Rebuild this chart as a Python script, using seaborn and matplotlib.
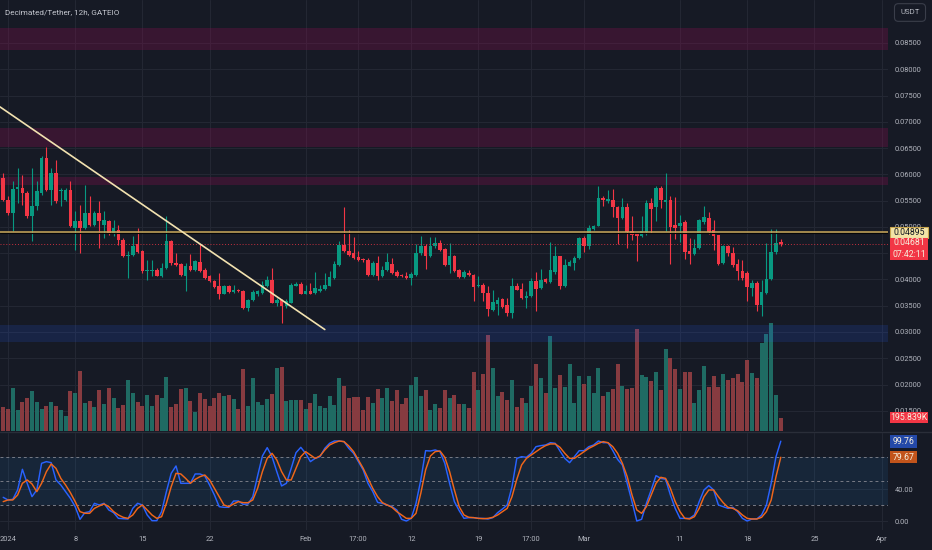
import numpy as np
import pandas as pd
import matplotlib
matplotlib.use("Agg")
import matplotlib.pyplot as plt
from matplotlib.lines import Line2D
from matplotlib.patches import Rectangle
import seaborn as sns

# DEC/USDT 12h candles, first candle 2023-12-31 12:00
first_candle = "2023-12-31 12:00"

opens = [
    .05929, .05517, .05264, .05720, .05739, .05644, .05201, .05391, .05644, .06309,
    .05707, .06024, .05676, .05517, .05707, .04979, .05106, .04979, .05264, .05043,
    .05264, .05043, .05106, .04885, .04948, .04758, .04441, .04473, .04676, .04536,
    .04157, .04157, .04188, .04074, .04220, .04726, .04315, .04302, .04074, .04264,
    .04176, .04327, .04176, .04062, .03967, .03872, .03732, .03872, .03758, .03808,
    .03777, .03460, .03606, .03714, .03745, .03872, .03986, .03555, .03606, .03492,
    .03555, .03884, .03922, .03732, .03777, .03745, .03777, .03821, .03884, .04030,
    .04283, .04663, .04549, .04505, .04429, .04391, .04378, .04093, .04315, .04062,
    .04188, .04302, .04138, .04081, .04074, .04030, .04093, .04505, .04631, .04454,
    .04631, .04695, .04581, .04283, .04441, .04176, .04049, .04125, .04093, .03872,
    .03903, .03745, .03416, .03524, .03619, .03505, .03353, .03884, .03821, .03650,
    .03682, .03967, .03834, .04011, .03948, .04138, .04441, .03872, .04264, .04315,
    .04410, .04790, .04631, .04966, .05024, .05549, .05486, .05517, .05378, .05169,
    .05378, .04916, .04885, .04821, .04897, .05454, .05378, .05739, .05467, .05505,
    .05030, .05011, .05093, .04536, .04492, .04600, .05093, .05169, .04935, .04840,
    .04315, .04644, .04505, .04302, .04169, .04125, .03840, .03935, .03505, .03745,
    .04011, .04517, .04707,
]
highs = [
    .06024, .05581, .05866, .06119, .05992, .05676, .06119, .05866, .06340, .06524,
    .06119, .06277, .05739, .05739, .05866, .05296, .05423, .05802, .05581, .05296,
    .05486, .05296, .05138, .05138, .05043, .04790, .04536, .04834, .04979, .04568,
    .04378, .04378, .04220, .04315, .05201, .04745, .04505, .04315, .04315, .04492,
    .04378, .04676, .04220, .04093, .03998, .04125, .03903, .03903, .03903, .03821,
    .03796, .03631, .03808, .03808, .03967, .04062, .04220, .03650, .03631, .03619,
    .03935, .03948, .03948, .03903, .03935, .04138, .03903, .04125, .04157, .04346,
    .04726, .05378, .04948, .04809, .04536, .04410, .04410, .04346, .04454, .04252,
    .04505, .04410, .04176, .04112, .04138, .04138, .04682, .04821, .04682, .04809,
    .04809, .04758, .04600, .04695, .04473, .04201, .04176, .04188, .04112, .04074,
    .03935, .03884, .03796, .03669, .03650, .03650, .04030, .03935, .03935, .03777,
    .04030, .04138, .04201, .04030, .04707, .04631, .04454, .04391, .04378, .04454,
    .04809, .04834, .05043, .05043, .05783, .05593, .05695, .05720, .05391, .05549,
    .05454, .05201, .04885, .05214, .05505, .05549, .05771, .05771, .06024, .05593,
    .05568, .05233, .05125, .04790, .04771, .05150, .05404, .05277, .05138, .04853,
    .04663, .04663, .04619, .04391, .04378, .04157, .03986, .03967, .03986, .04695,
    .04960, .04960, .04771,
]
lows = [
    .05486, .05233, .04916, .05454, .05423, .05169, .04726, .05328, .05612, .05676,
    .05423, .05454, .05391, .05486, .04998, .04568, .04505, .04960, .05024, .05011,
    .04600, .04790, .04853, .04821, .04663, .04429, .04030, .04454, .04505, .04125,
    .03998, .04062, .04062, .04049, .04201, .04283, .04252, .04074, .03777, .04157,
    .04157, .04138, .04011, .03948, .03840, .03619, .03714, .03745, .03745, .03758,
    .03441, .03397, .03587, .03694, .03732, .03859, .03543, .03492, .03175, .03460,
    .03543, .03872, .03714, .03714, .03714, .03732, .03758, .03808, .03872, .04011,
    .04264, .04517, .04441, .04391, .04346, .04340, .04074, .04074, .03998, .04049,
    .04157, .04112, .04049, .04043, .04011, .03903, .04074, .04473, .04201, .04429,
    .04600, .04536, .04264, .04125, .04138, .04030, .04030, .04074, .03587, .03859,
    .03587, .03302, .03397, .03315, .03460, .03302, .03258, .03796, .03631, .03460,
    .03669, .03397, .03821, .03935, .03935, .04112, .03821, .03859, .04252, .04176,
    .04391, .04517, .04581, .04948, .05011, .05404, .05454, .05188, .04682, .05150,
    .04600, .04745, .04346, .04809, .04853, .04885, .05106, .05359, .04916, .04302,
    .04771, .04707, .04391, .04302, .04473, .04581, .05062, .04872, .04568, .04283,
    .04302, .04441, .04239, .03998, .03998, .03587, .03682, .03397, .03302, .03732,
    .03998, .04492, .04644,
]
closes = [
    .05517, .05264, .05720, .05752, .05644, .05201, .05391, .05676, .06309, .05707,
    .06024, .05486, .05707, .05707, .05011, .05106, .04979, .05264, .05043, .05264,
    .05106, .05138, .04885, .04979, .04758, .04441, .04473, .04631, .04517, .04157,
    .04176, .04176, .04074, .04220, .04726, .04315, .04283, .04093, .04264, .04176,
    .04346, .04157, .04030, .03967, .03859, .03732, .03872, .03758, .03808, .03777,
    .03460, .03606, .03758, .03777, .03903, .03986, .03555, .03606, .03492, .03587,
    .03903, .03922, .03732, .03777, .03732, .03840, .03821, .03903, .04049, .04302,
    .04663, .04536, .04473, .04410, .04365, .04365, .04093, .04315, .04062, .04188,
    .04327, .04125, .04062, .04062, .04030, .04112, .04505, .04631, .04454, .04631,
    .04695, .04568, .04283, .04441, .04157, .04049, .04138, .04093, .03859, .03903,
    .03745, .03429, .03568, .03606, .03479, .03353, .03884, .03808, .03650, .03694,
    .03967, .03821, .03998, .03948, .04176, .04454, .03872, .04283, .04327, .04410,
    .04790, .04631, .04979, .05024, .05549, .05505, .05530, .05378, .05169, .05378,
    .04897, .04853, .04821, .04916, .05454, .05346, .05739, .05505, .05505, .04998,
    .04986, .05074, .04517, .04492, .04600, .05125, .05188, .04897, .04821, .04302,
    .04644, .04505, .04283, .04169, .04036, .03853, .03935, .03511, .03758, .04011,
    .04517, .04695, .04681,
]
# volume in thousands of DEC
volume_k = [
    353, 319, 637, 304, 426, 490, 588, 426, 319, 368,
    426, 368, 304, 220, 588, 554, 882, 417, 441, 353,
    603, 402, 637, 480, 333, 382, 745, 564, 426, 368,
    524, 368, 529, 480, 794, 353, 392, 622, 627, 441,
    279, 564, 466, 368, 480, 564, 515, 529, 466, 323,
    907, 368, 784, 426, 382, 466, 549, 931, 941, 441,
    456, 461, 451, 319, 417, 549, 368, 333, 515, 382,
    784, 662, 490, 500, 500, 304, 500, 407, 613, 490,
    627, 441, 603, 392, 480, 671, 794, 515, 598, 304,
    392, 343, 603, 490, 529, 402, 392, 343, 867, 603,
    843, 1411, 931, 515, 573, 451, 745, 353, 490, 417,
    662, 980, 774, 564, 1397, 637, 823, 647, 980, 417,
    809, 696, 809, 564, 931, 515, 573, 613, 990, 662,
    622, 637, 1495, 818, 794, 735, 872, 598, 1201, 1078,
    907, 613, 867, 867, 417, 598, 956, 647, 809, 647,
    833, 750, 774, 833, 720, 1039, 848, 774, 1289, 1421,
    1583, 529, 196,
]
# Stoch RSI %K (blue) and %D (orange)
stoch_k = [
    29.6, 26.3, 27.1, 38.8, 64.6, 47.1, 30.4, 38.8, 72.1, 74.2,
    72.9, 51.3, 45.0, 36.7, 28.3, 17.9, 2.1, 10.4, 11.7, 22.1,
    20.0, 22.1, 13.8, 10.4, 3.3, 2.9, 2.5, 15.8, 22.1, 20.0,
    7.5, 0.4, 0.4, 11.7, 36.7, 59.6, 68.8, 47.1, 47.1, 47.1,
    58.8, 58.8, 56.3, 45.0, 32.5, 17.9, 17.1, 17.1, 25.0, 25.0,
    20.8, 21.3, 30.4, 56.3, 81.3, 91.7, 80.4, 61.7, 43.8, 47.1,
    65.8, 85.4, 92.1, 84.6, 74.2, 78.3, 80.4, 90.8, 97.1, 100.0,
    100.0, 99.2, 90.8, 84.6, 74.2, 63.8, 47.1, 36.7, 23.3, 22.1,
    20.0, 17.9, 13.8, 2.1, 0.0, 3.3, 22.1, 51.3, 87.9, 87.5,
    88.8, 86.7, 72.1, 47.1, 24.2, 12.9, 3.3, 4.2, 4.2, 3.3,
    3.3, 2.5, 4.2, 10.4, 15.0, 20.0, 42.9, 78.3, 80.4, 79.6,
    84.6, 92.9, 94.2, 95.0, 97.9, 97.1, 87.5, 78.3, 72.9, 80.4,
    87.9, 87.9, 92.9, 95.0, 100.0, 97.9, 97.9, 88.0, 77.0, 70.0,
    47.1, 24.2, 0.0, 2.1, 22.1, 38.8, 56.7, 53.3, 52.1, 32.5,
    15.8, 3.3, 3.3, 3.3, 7.5, 24.2, 38.8, 44.2, 38.8, 20.0,
    17.9, 15.8, 17.1, 11.7, 3.3, 0.0, 2.5, 2.5, 7.5, 20.0,
    47.1, 80.4, 99.76,
]
stoch_d = [
    24.2, 26.3, 26.3, 32.5, 47.1, 51.3, 46.3, 36.7, 47.1, 61.7,
    71.3, 65.8, 53.3, 45.0, 35.4, 24.2, 11.7, 9.6, 9.6, 15.8,
    18.8, 21.3, 17.9, 11.7, 7.5, 4.6, 3.3, 7.5, 15.8, 20.0,
    13.8, 7.5, 3.3, 5.4, 22.1, 42.9, 59.6, 58.8, 53.3, 47.1,
    52.1, 55.4, 57.5, 51.3, 40.8, 30.4, 20.0, 17.9, 21.3, 24.2,
    22.9, 22.9, 26.3, 40.8, 61.7, 78.3, 84.6, 76.3, 61.7, 51.3,
    51.3, 65.8, 80.4, 86.7, 82.5, 78.3, 81.3, 88.8, 95.0, 97.9,
    100.0, 99.2, 93.8, 86.7, 76.3, 65.8, 53.3, 40.8, 30.4, 22.9,
    20.0, 17.1, 11.7, 7.5, 3.3, 3.3, 9.6, 34.6, 63.8, 81.3,
    86.7, 87.5, 79.6, 61.7, 38.8, 17.9, 7.5, 4.6, 4.2, 3.3,
    2.9, 3.3, 4.6, 7.5, 11.7, 15.8, 30.4, 52.1, 70.0, 78.3,
    82.5, 86.7, 90.8, 94.2, 96.3, 96.3, 92.1, 84.6, 78.3, 78.3,
    82.5, 86.7, 90.8, 93.8, 97.1, 99.2, 97.9, 92.9, 84.6, 72.1,
    55.4, 32.5, 13.8, 9.6, 17.9, 32.5, 47.1, 54.6, 53.3, 40.8,
    24.2, 11.7, 3.3, 2.5, 5.4, 15.8, 30.4, 38.8, 38.8, 30.4,
    22.9, 17.1, 15.8, 12.9, 7.5, 3.3, 2.5, 2.5, 4.6, 11.7,
    26.3, 55.4, 79.67,
]

price_ticks = [0.015, 0.020, 0.025, 0.030, 0.035, 0.040, 0.045, 0.050,
               0.055, 0.060, 0.065, 0.070, 0.075, 0.080, 0.085]
date_ticks = ["2024-01-01", "2024-01-08", "2024-01-15", "2024-01-22", "2024-02-01",
              "2024-02-06 11:00", "2024-02-12", "2024-02-19", "2024-02-24 11:30",
              "2024-03-01", "2024-03-11", "2024-03-18", "2024-03-25", "2024-04-01"]
date_labels = ["2024", "8", "15", "22", "Feb", "17:00", "12", "19", "17:00",
               "Mar", "11", "18", "25", "Apr"]

# drawn zones / levels
resist_zones = [(0.08367, 0.08785), (0.06524, 0.06885), (0.05802, 0.05954)]
support_zone = (0.02819, 0.03142)
level_line = 0.04895
last_price = 0.04681
countdown = "07:42:11"
trend_start = ("2023-12-31 04:00", 0.07284)
trend_end = ("2024-02-03 00:00", 0.03047)
vol_label = "195.839K"

# colours
BG = "#161a25"
GRID = "#232733"
TXT = "#b2b5be"
GREEN = "#089981"
RED = "#f23645"
VGREEN = "#1f6b63"
VRED = "#873b40"
TAGTXT = "#f6eedc"

sns.set_theme(style="dark", rc={
    "figure.facecolor": BG, "axes.facecolor": BG, "axes.edgecolor": BG,
    "text.color": TXT, "xtick.color": TXT, "ytick.color": TXT,
})
plt.rcParams["font.family"] = ["Roboto", "DejaVu Sans"]

t0 = pd.Timestamp("2024-01-01")
def to_day(t):
    return (pd.to_datetime(t) - t0) / pd.Timedelta(days=1)

x = np.asarray(to_day(pd.date_range(first_candle, periods=len(opens), freq="12h")))
o, h, l, c = map(np.array, (opens, highs, lows, closes))
up = c >= o
xt = [to_day(d) for d in date_ticks]

W, H = 932, 550
xlim = (-8 / 9.6, 880 / 9.6)
plim = (0.01116, 0.09318)
vlim = (0, 6340)
fs = 5.4
tag_fs = 6.3

fig = plt.figure(figsize=(W / 100, H / 100), dpi=100)
rect_main = [0, 1 - 431 / H, 888 / W, 431 / H]
axv = fig.add_axes(rect_main)
ax = fig.add_axes(rect_main, facecolor="none")
axs = fig.add_axes([0, 1 - 530 / H, 888 / W, 97 / H])

# volume layer (bottom) with grid
axv.bar(x, volume_k, width=0.4, color=np.where(up, VGREEN, VRED), linewidth=0, zorder=2)
axv.set_xlim(xlim)
axv.set_ylim(vlim)
for t in xt:
    axv.axvline(t, color=GRID, lw=0.8, zorder=0)
for p in price_ticks:
    f = (p - plim[0]) / (plim[1] - plim[0])
    axv.plot([0, 1], [f, f], transform=axv.transAxes, color=GRID, lw=0.8, zorder=0)
axv.set_xticks([])
axv.set_yticks([])
for s in axv.spines.values():
    s.set_visible(False)

# price layer
for lo, hi in resist_zones:
    ax.axhspan(lo, hi, color="#880e4f", alpha=0.3, lw=0, zorder=1)
ax.axhspan(*support_zone, color="#2962ff", alpha=0.15, lw=0, zorder=1)

ax.vlines(x, l, h, colors=np.where(up, GREEN, RED), lw=0.8, zorder=3)
ax.bar(x, np.abs(c - o), bottom=np.minimum(o, c), width=0.36,
       color=np.where(up, GREEN, RED), linewidth=0, zorder=4)

ax.axhline(level_line - 0.00013, color="#050608", lw=0.8, zorder=5)
ax.axhline(level_line, color="#caa859", lw=1.1, zorder=5)
ax.axhline(last_price, color=RED, lw=0.7, ls=(0, (1, 2)), alpha=0.8, zorder=5)
ax.plot([to_day(trend_start[0]), to_day(trend_end[0])], [trend_start[1], trend_end[1]],
        color="#f2e2b0", lw=1.2, solid_capstyle="round", zorder=6)

ax.set_xlim(xlim)
ax.set_ylim(plim)
ax.set_xticks([])
ax.set_yticks(price_ticks)
# the 0.04500 label sits fully under the last-price tag in the reference
ax.set_yticklabels(["" if abs(p - 0.045) < 1e-9 else f"{p:.5f}" for p in price_ticks])
ax.tick_params(axis="y", left=False, labelleft=False, right=False, labelright=True,
               length=0, pad=5, labelsize=fs, labelcolor=TXT)
for s in ax.spines.values():
    s.set_visible(False)

# stoch RSI pane
axs.axhspan(20, 80, color="#2196f3", alpha=0.1, lw=0, zorder=1)
for lvl in (80, 50, 20):
    axs.axhline(lvl, color="#787b86", lw=0.7, ls=(0, (3, 3)), zorder=2)
for lvl in (0, 40):
    axs.axhline(lvl, color=GRID, lw=0.8, zorder=0)
for t in xt:
    axs.axvline(t, color=GRID, lw=0.8, zorder=0)
sns.lineplot(x=x, y=stoch_k, ax=axs, color="#2962ff", lw=1.05, zorder=4)
sns.lineplot(x=x, y=stoch_d, ax=axs, color="#f0661a", lw=1.05, zorder=5)
axs.set_xlim(xlim)
axs.set_ylim(-11.25, 110)
axs.set_yticks([0, 40])
axs.set_yticklabels(["0.00", "40.00"])
axs.set_xticks(xt)
axs.set_xticklabels(date_labels)
axs.tick_params(axis="y", left=False, labelleft=False, labelright=True, length=0,
                pad=5, labelsize=fs, labelcolor=TXT)
axs.tick_params(axis="x", length=0, pad=4, labelsize=fs, labelcolor=TXT)
axs.set_xlabel("")
axs.set_ylabel("")
for s in axs.spines.values():
    s.set_visible(False)


def tag(axis, value, text, fc, tc, width=38, height=11, top=None, ec="none"):
    """price-scale tag: a fixed-size box on the right scale, centred on the value"""
    yc = axis.transData.transform((0, value))[1]
    y_top = yc + height / 2 if top is None else yc + top
    fig.add_artist(Rectangle((890 / W, (y_top - height) / H), width / W, height / H,
                             transform=fig.transFigure, fc=fc, ec=ec, lw=0.8, zorder=5))
    fig.text((890 + width / 2) / W, (y_top - height / 2) / H, text, ha="center",
             va="center", fontsize=tag_fs, color=tc, linespacing=1.35, zorder=6)


tag(ax, level_line, f"{level_line:.5f}", "#f3e3a6", "#131722", ec="#c9a74f")
tag(ax, last_price, f"{last_price:.5f}\n{countdown}", RED, TAGTXT, height=22, top=6)
tag(axv, volume_k[-1], vol_label, RED, TAGTXT)
tag(axs, stoch_k[-1], f"{stoch_k[-1]:.2f}", "#2449a8", TAGTXT, width=27, height=13)
tag(axs, stoch_d[-1], f"{stoch_d[-1]:.2f}", "#c2541b", TAGTXT, width=27, height=12)

# pane separator, title, currency box
fig.add_artist(Line2D([0, 1], [1 - 432 / H] * 2, color="#2a2e39", lw=1))
fig.text(5 / W, 1 - 12 / H, "Decimated/Tether, 12h, GATEIO", ha="left", va="center",
         fontsize=5.9, color="#c3c6ce")
fig.text(910 / W, 1 - 12.5 / H, "USDT", ha="center", va="center", fontsize=5.6, color=TXT,
         bbox=dict(boxstyle="round,pad=0.75,rounding_size=0.5", fc=BG, ec="#3a3e4a", lw=0.8))

fig.savefig("out.png", dpi=100, facecolor=BG)
